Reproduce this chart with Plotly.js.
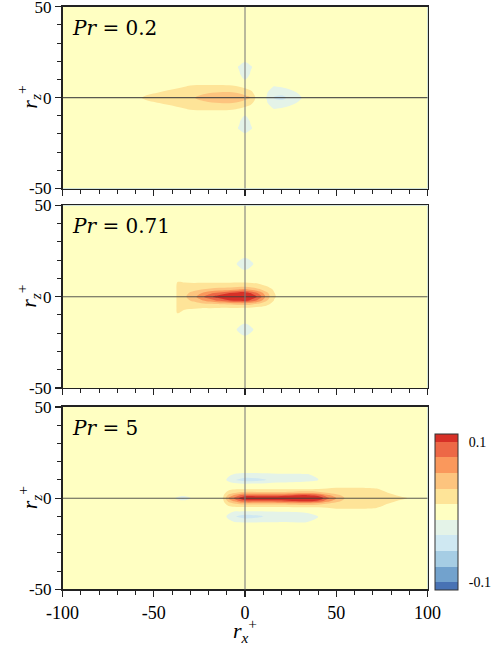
<!DOCTYPE html>
<html>
<head>
<meta charset="utf-8">
<script src="https://cdn.plot.ly/plotly-3.0.1.min.js"></script>
<style>html,body{margin:0;padding:0;background:#fff;}#plot{width:500px;height:646px;}</style>
</head>
<body>
<div id="plot"></div>
<script>
// ---- data (values in units of 1e-3) ----
const panelLabels = ['<i>Pr</i> = 0.2', '<i>Pr</i> = 0.71', '<i>Pr</i> = 5'];
const yTitle = '<i>r</i><sub><i>z</i></sub><sup>+</sup>';
const xTitle = '<i>r</i><sub><i>x</i></sub><sup>+</sup>';

// Pr = 0.2
const x1 = [-100, -62, -55, -47, -38, -30, -22, -14, -7, -3, 0, 3, 7, 12, 16, 20, 25, 30, 35, 100];
const z1 = [-50, -22, -17, -13, -9, -6, -3, 0, 3, 6, 9, 13, 17, 22, 50];
const v1 = [
  [0,0,0,0,0,0,0,0,0,0,0,0,0,0,0,0,0,0,0,0],
  [0,0,0,0,0,0,0,0,0,0,0,0,0,0,0,0,0,0,0,0],
  [0,0,0,0,0,0,0,0,-4,-13,-23,-13,-4,0,0,0,0,0,0,0],
  [0,0,0,0,0,0,0,0,-2,-10,-19,-10,-2,0,0,0,0,0,0,0],
  [0,0,0,0,3,5,5,5,4,0,-9,0,0,0,0,0,0,0,0,0],
  [0,0,0,3,8,13,14,14,13,11,6,2,0,-6,-12,-10,-5,-2,0,0],
  [0,0,5,11,16,22,30,33,33,30,25,16,0,-10,-20,-22,-16,-8,0,0],
  [0,0,14,20,25,30,40,48,47,44,40,36,-2,-12,-36,-42,-25,-14,0,0],
  [0,0,5,11,16,22,30,33,33,30,25,16,0,-10,-20,-22,-16,-8,0,0],
  [0,0,0,3,8,13,14,14,13,11,6,2,0,-6,-12,-10,-5,-2,0,0],
  [0,0,0,0,3,5,5,5,4,0,-9,0,0,0,0,0,0,0,0,0],
  [0,0,0,0,0,0,0,0,-2,-10,-19,-10,-2,0,0,0,0,0,0,0],
  [0,0,0,0,0,0,0,0,-4,-13,-23,-13,-4,0,0,0,0,0,0,0],
  [0,0,0,0,0,0,0,0,0,0,0,0,0,0,0,0,0,0,0,0],
  [0,0,0,0,0,0,0,0,0,0,0,0,0,0,0,0,0,0,0,0]
];

// Pr = 0.71
const x2 = [-100, -42, -37, -33, -28, -24, -19, -14, -8, -4, 0, 4, 8, 12, 16, 20, 100];
const z2 = [-50, -24, -18, -12, -9, -6, -4, -2, 0, 2, 4, 6, 9, 12, 18, 24, 50];
const v2 = [
  [0,0,0,0,0,0,0,0,0,0,0,0,0,0,0,0,0],
  [0,0,0,0,0,0,0,0,0,0,0,0,0,0,0,0,0],
  [0,0,0,0,0,0,0,0,0,-13,-25,-13,0,0,0,0,0],
  [0,0,0,0,0,0,0,0,0,0,0,0,0,0,0,0,0],
  [0,0,11.5,6,3,2,1,1,1,1,1,0,0,0,0,0,0],
  [0,0,12.5,14,13,12,12,11.5,11.5,11.5,11.5,9,6,3,0,0,0],
  [0,0,12.5,20,24,28,31,34,36,40,42,36,28,16,4,0,0],
  [0,0,12.5,27,38,52,68,84,100,108,110,92,66,35,10,0,0],
  [0,0,12.5,30,48,70,95,112,125,130,132,115,90,45,14,0,0],
  [0,0,12.5,28,40,55,72,86,102,110,114,95,70,38,12,0,0],
  [0,0,12.5,22,28,33,38,42,48,55,60,50,36,22,8,0,0],
  [0,0,12.5,16,18,20,21,22,22,23,24,20,16,10,4,0,0],
  [0,0,10.5,8,5,4,3,3,3,3,3,3,2,1,0,0,0],
  [0,0,0,0,0,0,0,0,0,0,0,0,0,0,0,0,0],
  [0,0,0,0,0,0,0,0,0,-13,-25,-13,0,0,0,0,0],
  [0,0,0,0,0,0,0,0,0,0,0,0,0,0,0,0,0],
  [0,0,0,0,0,0,0,0,0,0,0,0,0,0,0,0,0]
];

// Pr = 5
const x3 = [-100, -40, -34, -28, -16, -12, -9, -6, -3, 0, 6, 12, 18, 26, 34, 40, 45, 50, 56, 64, 72, 80, 88, 100];
const z3 = [-50, -16, -13, -10, -7, -5, -3, -1.5, 0, 1.5, 3, 5, 7, 10, 13, 16, 50];
const v3 = [
  [0,0,0,0,0,0,0,0,0,0,0,0,0,0,0,0,0,0,0,0,0,0,0,0],
  [0,0,0,0,0,0,0,0,0,0,0,0,0,0,0,0,0,0,0,0,0,0,0,0],
  [0,0,0,0,0,-2,-6,-11,-12,-12.5,-12.5,-12,-11.5,-11.5,-11.5,-6,0,0,0,0,0,0,0,0],
  [0,0,0,0,0,-4,-16,-30,-38,-45,-40,-30,-24,-21,-17,-12,0,0,0,0,0,0,0,0],
  [0,0,0,0,0,-2,-5,-9,-9,-9,-9,-9,-9,-9,-8,-3,5,8,8,8,6,2,0,0],
  [0,0,0,0,0,0,6,8,9,9,9,9,9,9,10,11,12,13,13,13,12,6,0,0],
  [0,0,0,0,0,4,20,30,38,41,41,41,41,44,48,42,32,22,16,16,15,10,4,0],
  [0,0,-4,0,0,8,40,60,78,89,89,89,90,100,108,95,66,42,22,19,17,13,8,0],
  [0,0,-36,0,0,12,56,80,105,128,128,128,130,135,140,122,85,56,26,22,20,16,12,0],
  [0,0,-4,0,0,8,40,60,78,89,89,89,90,100,108,95,66,42,22,19,17,13,8,0],
  [0,0,0,0,0,4,20,30,38,41,41,41,41,44,48,42,32,22,16,16,15,10,4,0],
  [0,0,0,0,0,0,6,8,9,9,9,9,9,9,10,11,12,13,13,13,12,6,0,0],
  [0,0,0,0,0,0,2,4,5,5,5,5,5,5,5,5,7,8,8,8,6,2,0,0],
  [0,0,0,0,0,-4,-16,-30,-38,-45,-42,-33,-25,-22,-18,-12,0,0,0,0,0,0,0,0],
  [0,0,0,0,0,-3,-8,-12,-14,-15,-15,-14,-13,-13,-12,-8,0,0,0,0,0,0,0,0],
  [0,0,0,0,0,0,0,0,0,0,0,0,0,0,0,0,0,0,0,0,0,0,0,0],
  [0,0,0,0,0,0,0,0,0,0,0,0,0,0,0,0,0,0,0,0,0,0,0,0]
];

const bandColors = ['#4872b4','#72a2cd','#a6cde4','#cfe8f2','#e4f3e8','#ffffc2','#fee498','#fdc47e','#fa985c','#ed6846','#d73027'];
const cbTickVals = [-0.1, 0.1];
const cbTickText = ['-0.1', '0.1'];
const xTickVals = [-100, -50, 0, 50, 100];
const xTickText = ['-100', '-50', '0', '50', '100'];
const yTickVals = [-50, 0, 50];
const yTickText = ['-50', '0', '50'];

// ---- build ----
const scale = 1e-3;
const colorscale = bandColors.map((c, i) => [i / (bandColors.length - 1), c]);
const contours = {start: -0.1, end: 0.1, size: 0.2 / 9, coloring: 'fill', showlines: false};
const panels = [[x1, z1, v1], [x2, z2, v2], [x3, z3, v3]];

const traces = panels.map((p, i) => ({
  type: 'contour',
  x: p[0], y: p[1],
  z: p[2].map(r => r.map(v => v * scale)),
  xaxis: i === 0 ? 'x' : 'x' + (i + 1),
  yaxis: i === 0 ? 'y' : 'y' + (i + 1),
  autocontour: false,
  contours: contours,
  colorscale: colorscale,
  line: {width: 0, smoothing: 1},
  hoverinfo: 'skip',
  showscale: i === 2,
  colorbar: {
    x: 0.87, xanchor: 'left', xpad: 0,
    y: 1 - 590 / 646, yanchor: 'bottom', ypad: 0,
    len: 156, lenmode: 'pixels', thickness: 23,
    outlinewidth: 1, outlinecolor: '#333',
    tickvals: cbTickVals, ticktext: cbTickText,
    ticks: 'outside', ticklen: 8, tickcolor: 'rgba(0,0,0,0)',
    tickfont: {family: 'Liberation Serif', size: 14, color: '#000'}
  }
}));

const domainsY = [[0.7082, 0.9895], [0.3994, 0.6819], [0.0875, 0.3700]];
const layout = {
  width: 500, height: 646,
  margin: {l: 0, r: 0, t: 0, b: 0},
  paper_bgcolor: '#fff', plot_bgcolor: '#ffffc2',
  font: {family: 'Liberation Serif', color: '#000'},
  showlegend: false,
  shapes: [], annotations: []
};
const axisCommon = {
  showgrid: false, zeroline: false, showline: true, mirror: true,
  linecolor: '#222', linewidth: 1.5,
  ticks: 'outside', ticklen: 6, tickwidth: 1.3, tickcolor: '#222',
  minor: {dtick: 10, ticks: 'outside', ticklen: 4, tickwidth: 1, tickcolor: '#222', showgrid: false},
  tickfont: {family: 'Liberation Serif', size: 17, color: '#000'},
  ticklabeloverflow: 'allow',
  fixedrange: true
};
for (let i = 0; i < 3; i++) {
  const s = i === 0 ? '' : String(i + 1);
  layout['xaxis' + s] = Object.assign({}, axisCommon, {
    domain: [0.125, 0.855], range: [-100, 100], anchor: 'y' + s,
    tickvals: xTickVals, ticktext: xTickText, showticklabels: i === 2,
    tickfont: {family: 'Liberation Serif', size: 18, color: '#000'},
    title: i === 2 ? {text: xTitle, font: {size: 22}, standoff: 4} : undefined
  });
  layout['yaxis' + s] = Object.assign({}, axisCommon, {
    domain: domainsY[i], range: [-50, 50], anchor: 'x' + s,
    tickvals: yTickVals, ticktext: yTickText
  });
  layout.shapes.push({type: 'line', xref: 'x' + s + ' domain', yref: 'y' + s, x0: 0, x1: 1, y0: 0, y1: 0,
    line: {color: 'rgba(60,60,60,0.85)', width: 1.2}, layer: 'above'});
  layout.shapes.push({type: 'line', xref: 'x' + s, yref: 'y' + s + ' domain', x0: 0, x1: 0, y0: 0, y1: 1,
    line: {color: 'rgba(120,120,120,0.65)', width: 1.6}, layer: 'above'});
  layout.annotations.push({xref: 'x' + s + ' domain', yref: 'y' + s + ' domain', x: 0.02, y: 0.885,
    xanchor: 'left', yanchor: 'middle', showarrow: false, text: panelLabels[i],
    font: {family: 'DejaVu Serif', size: 20, color: '#000'}});
  // y-axis title (r_z^+), placed beside each panel
  layout.annotations.push({xref: 'paper', yref: 'y' + s + ' domain', x: 0.058, y: 0.5,
    xanchor: 'center', yanchor: 'middle', textangle: -90, showarrow: false, text: yTitle,
    font: {family: 'Liberation Serif', size: 22, color: '#000'}});
}
Plotly.newPlot('plot', traces, layout, {displayModeBar: false, staticPlot: true});
</script>
</body>
</html>
